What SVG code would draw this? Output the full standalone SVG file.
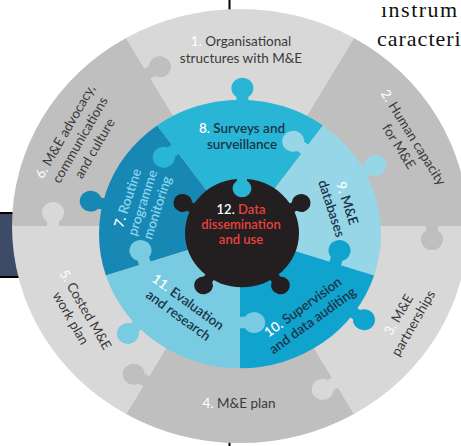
<svg xmlns="http://www.w3.org/2000/svg" xmlns:xlink="http://www.w3.org/1999/xlink" width="461" height="446" viewBox="0 0 461 446">
<defs>
<style>
.oL{fill:#d8d8d8}.oD{fill:#bfbfbf}
.c7{fill:#1688b3}.c8{fill:#29b6d6}.c9{fill:#96d6e6}.c10{fill:#10a3cd}.c11{fill:#78cbe0}.cc{fill:#231f20}
.ot{font-family:Lato,"Open Sans",sans-serif;font-size:13.5px;fill:#3a3a3a;text-anchor:middle}
.mt{font-family:Lato,"Open Sans",sans-serif;font-size:13.5px;font-weight:600;fill:#1b3447;text-anchor:middle}
.n{fill:#ffffff}
.ct{font-family:Lato,"Open Sans",sans-serif;font-size:13px;font-weight:600;fill:#e8413f;text-anchor:middle}
.pg{font-family:"Liberation Serif",serif;font-size:22px;fill:#111}
</style>
<path id="tab" d="M-6,3 V-5 A11,11 0 1 1 6,-5 V3 Z"/>
</defs>
<rect width="461" height="446" fill="#ffffff"/>
<g id="page">
<rect x="0" y="213" width="30" height="64" fill="#3d4b66"/>
<line x1="0" y1="213" x2="30" y2="213" stroke="#000" stroke-width="2"/>
<line x1="0" y1="277" x2="30" y2="277" stroke="#000" stroke-width="2"/>
<line x1="229.5" y1="0" x2="229.5" y2="14" stroke="#000" stroke-width="2"/>
<line x1="229.5" y1="438" x2="229.5" y2="446" stroke="#000" stroke-width="2"/>
<text class="pg" x="381" y="17" letter-spacing="1.5">ınstrum</text>
<text class="pg" x="377" y="46" letter-spacing="1">caracteri</text>
</g>
<g id="piece-1">
<g transform="translate(240,226) scale(1,0.952)"><path class="oL" d="M0,0 L-114,-197.45 A228,228 0 0 1 114,-197.45 Z"/></g>
<text class="ot" x="241" y="46"><tspan class="n">1.</tspan> Organisational</text>
<text class="ot" x="241" y="63">structures with M&amp;E</text>
</g>
<g id="piece-3">
<g transform="translate(240,226) scale(1,0.952)"><path class="oL" d="M0,0 L228,0 A228,228 0 0 1 114,197.45 Z"/></g>
<g transform="translate(406,319) rotate(-60)"><text class="ot" y="-4"><tspan class="n">3.</tspan> M&amp;E</text><text class="ot" y="13">partnerships</text></g>
</g>
<g id="piece-2">
<g transform="translate(240,226) scale(1,0.952)"><path class="oD" d="M0,0 L114,-197.45 A228,228 0 0 1 228,0 Z"/><use xlink:href="#tab" class="oD" transform="translate(192,0) rotate(180)"/></g>
<g transform="translate(406,142) rotate(58)"><text class="ot" y="-4"><tspan class="n">2.</tspan> Human capacity</text><text class="ot" y="13">for M&amp;E</text></g>
</g>
<g id="piece-4">
<g transform="translate(240,226) scale(1,0.952)"><path class="oD" d="M0,0 L114,197.45 A228,228 0 0 1 -114,197.45 Z"/></g>
<text class="ot" x="239" y="408"><tspan class="n">4.</tspan> M&amp;E plan</text>
</g>
<g id="piece-3-tab"><g transform="translate(240,226) scale(1,0.952)"><use xlink:href="#tab" class="oL" transform="translate(95,164.5) rotate(240)"/></g></g>
<g id="piece-5">
<g transform="translate(240,226) scale(1,0.952)"><path class="oL" d="M0,0 L-114,197.45 A228,228 0 0 1 -228,0 Z"/></g>
<g transform="translate(78,314) rotate(60)"><text class="ot" y="-4"><tspan class="n">5.</tspan> Costed M&amp;E</text><text class="ot" y="13">work plan</text></g>
</g>
<g id="piece-4-tab"><g transform="translate(240,226) scale(1,0.952)"><use xlink:href="#tab" class="oD" transform="translate(-94,162.8) rotate(300)"/></g></g>
<g id="piece-6">
<g transform="translate(240,226) scale(1,0.952)"><path class="oD" d="M0,0 L-228,0 A228,228 0 0 1 -114,-197.45 Z"/><use xlink:href="#tab" class="oD" transform="translate(-92.5,-160.2) rotate(60)"/></g>
<g transform="translate(80,140) rotate(-60)"><text class="ot" y="-12.5"><tspan class="n">6.</tspan> M&amp;E advocacy,</text><text class="ot" y="4.5">communications</text><text class="ot" y="21.5">and culture</text></g>
</g>
<g id="piece-5-tab"><g transform="translate(240,226) scale(1,0.952)"><use xlink:href="#tab" class="oL" transform="translate(-187,0) rotate(0)"/></g></g>

<g id="piece-7">
<g transform="translate(240,234) scale(1,0.952)"><path class="c7" d="M0,0 L-134.1,43.57 A141,141 0 0 1 -82.88,-114.07 Z"/><use xlink:href="#tab" class="c7" transform="translate(-135.4,-31.3) rotate(283)"/></g>
</g>
<g id="piece-8">
<g transform="translate(240,234) scale(1,0.952)"><path class="c8" d="M0,0 L-82.88,-114.07 A141,141 0 0 1 82.88,-114.07 Z"/><use xlink:href="#tab" class="c8" transform="translate(2.4,-139) rotate(0)"/><use xlink:href="#tab" class="c8" transform="translate(-64.7,-89) rotate(234)"/></g>
<text class="mt" x="242" y="133"><tspan class="n">8.</tspan> Surveys and</text>
<text class="mt" x="242" y="149">surveillance</text>
</g>
<g id="piece-9">
<g transform="translate(240,234) scale(1,0.952)"><path class="c9" d="M0,0 L82.88,-114.07 A141,141 0 0 1 134.1,43.57 Z"/><use xlink:href="#tab" class="c9" transform="translate(122.7,-65.3) rotate(62)"/><use xlink:href="#tab" class="c9" transform="translate(64.7,-89) rotate(306)"/></g>
<g transform="translate(339,206) rotate(72)"><text class="mt" y="-4"><tspan class="n">9.</tspan> M&amp;E</text><text class="mt" y="12.5">databases</text></g>
</g>
<g id="piece-10">
<g transform="translate(240,234) scale(1,0.952)"><path class="c10" d="M0,0 L134.1,43.57 A141,141 0 0 1 0,141 Z"/><use xlink:href="#tab" class="c10" transform="translate(112.5,81.7) rotate(126)"/><use xlink:href="#tab" class="c10" transform="translate(95.1,30.9) rotate(18)"/></g>
<g transform="translate(308,314) rotate(-36)"><text class="mt" y="-4"><tspan class="n">10.</tspan> Supervision</text><text class="mt" y="12.5">and data auditing</text></g>
</g>
<g id="piece-11">
<g transform="translate(240,234) scale(1,0.952)"><path class="c11" d="M0,0 L0,141 A141,141 0 0 1 -134.1,43.57 Z"/><use xlink:href="#tab" class="c11" transform="translate(-101.7,94.8) rotate(227)"/><use xlink:href="#tab" class="c11" transform="translate(0,93) rotate(90)"/><use xlink:href="#tab" class="c11" transform="translate(-95.1,30.9) rotate(342)"/></g>
<g transform="translate(183,309) rotate(36)"><text class="mt" y="-4"><tspan class="n">11.</tspan> Evaluation</text><text class="mt" y="12.5">and research</text></g>
</g>
<g id="piece-7-text">
<g transform="translate(143,203) rotate(-72)"><text class="mt" y="-11.5" style="fill:#8ad3ee"><tspan class="n">7.</tspan> Routine</text><text class="mt" y="4" style="fill:#8ad3ee">programme</text><text class="mt" y="19.5" style="fill:#8ad3ee">monitoring</text></g>
</g>
<g id="piece-12">
<g transform="translate(242,233) scale(1,0.952)"><circle class="cc" r="57"/>
<use xlink:href="#tab" class="cc" transform="translate(-48.6,-25.8) rotate(298) scale(0.85)"/>
<use xlink:href="#tab" class="cc" transform="translate(48.6,-25.8) rotate(62) scale(0.85)"/>
<use xlink:href="#tab" class="cc" transform="translate(-31.5,45.1) rotate(215) scale(0.85)"/>
<use xlink:href="#tab" class="cc" transform="translate(31.5,45.1) rotate(145) scale(0.85)"/>
<use xlink:href="#tab" class="c8" transform="translate(0,-59) rotate(180) scale(0.85)"/></g>
<text class="ct" x="241" y="214"><tspan class="n">12.</tspan> Data</text>
<text class="ct" x="241" y="229">dissemination</text>
<text class="ct" x="241" y="244">and use</text>
</g>
</svg>
